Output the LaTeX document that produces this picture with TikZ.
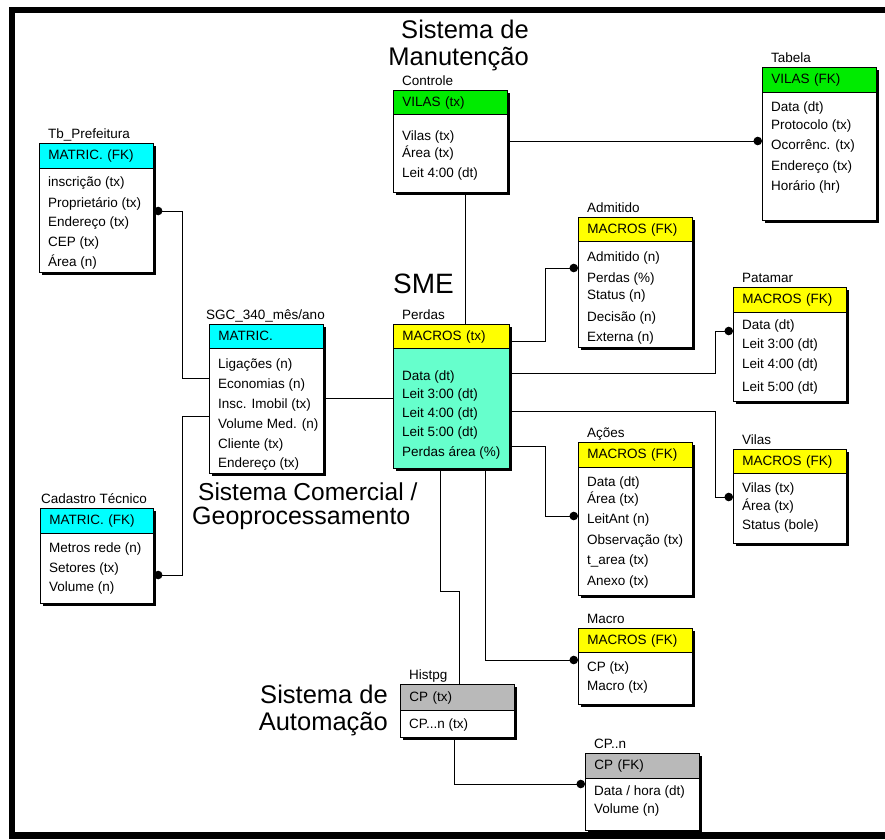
\documentclass[tikz,border=0pt]{standalone}
\usepackage{fontspec}
\setmainfont{Liberation Sans}
\usetikzlibrary{calc,shadows,arrows.meta}

\definecolor{hcyan}{RGB}{0,255,255}
\definecolor{hgreen}{RGB}{0,235,0}
\definecolor{hyellow}{RGB}{255,255,0}
\definecolor{hgray}{RGB}{185,185,185}
\definecolor{aqua}{RGB}{102,255,204}

\newcommand\erfont{\fontsize{13.5}{16}\selectfont}
\newcommand\bigfont{\fontsize{25.5}{30}\selectfont}

\tikzset{
  x=1pt, y=1pt,
  tbl/.style={draw=black, line width=0.9pt, anchor=north west, inner sep=0pt,
    drop shadow={shadow xshift=3pt, shadow yshift=-3pt, fill=black, opacity=1}},
  hdr/.style={draw=black, line width=0.9pt, anchor=north west, inner xsep=9pt,
    inner ysep=0pt, align=left, font=\erfont, text height=9.7pt, text depth=2.5pt},
  rowtxt/.style={anchor=base west, inner sep=0pt, font=\erfont},
  ttl/.style={anchor=base west, inner sep=0pt, font=\erfont},
  sysl/.style={inner sep=0pt, font=\bigfont},
  link/.style={line width=0.9pt},
  fk/.style={line width=0.9pt, -{Circle[length=8.5pt,width=8.5pt]}},
}

% table: name, x, y, width, height, header height, header colour, body colour, key
\newcommand\ertable[9]{%
  \node[tbl, minimum width=#4, minimum height=#5, fill=#8] (#1) at (#2,-#3) {};
  \pgfmathsetmacro\hdrw{#4-18}%
  \node[hdr, text width=\hdrw pt, minimum height=#6, fill=#7] (#1-h) at (#1.north west) {#9};
}
% attribute rows: baseline offset from the table top / text
\newcommand\ertrows[2]{%
  \foreach \dy/\txt [count=\i] in {#2} {
    \node[rowtxt] (#1-\i) at ($(#1.north west)+(9,-\dy)$) {\txt};
  }
}
\newcommand\ertitle[2]{%
  \node[ttl] (#1-t) at ($(#1.north west)+(9,5)$) {#2};
}

\begin{document}
\begin{tikzpicture}
\useasboundingbox (0,0) rectangle (885,-839);
\fill[white] (0,0) rectangle (885,-839);

% frame
\fill[black] (9,-7) rectangle (885,-13);
\fill[black] (9,-7) rectangle (15,-839);
\fill[black] (9,-832) rectangle (885,-839);

% tables
\ertable{ctl}{393}{90}{114}{102}{24}{hgreen}{white}{VILAS (tx)}
\ertitle{ctl}{Controle}
\ertrows{ctl}{50/Vilas (tx), 67/Área (tx), 87/Leit 4:00 (dt)}

\ertable{tab}{762}{67}{114}{153}{25}{hgreen}{white}{VILAS (FK)}
\ertitle{tab}{Tabela}
\ertrows{tab}{44/Data (dt), 62/Protocolo (tx), 82/Ocorrênc. (tx), 103/Endereço (tx), 123/Horário (hr)}

\ertable{tbp}{39}{143}{114}{129}{25}{hcyan}{white}{MATRIC. (FK)}
\ertitle{tbp}{Tb\_Prefeitura}
\ertrows{tbp}{43/inscrição (tx), 64/Proprietário (tx), 83/Endereço (tx), 103/CEP (tx), 123/Área (n)}

\ertable{sgc}{209}{324}{114}{149}{24}{hcyan}{white}{MATRIC.}
\node[ttl] (sgc-t) at ($(sgc.north west)+(-3,5)$) {SGC\_340\_mês/ano};
\ertrows{sgc}{44/Ligações (n), 64/Economias (n), 84/Insc. Imobil (tx), 104/Volume Med. (n), 124/Cliente (tx), 143/Endereço (tx)}

\ertable{cad}{40}{508}{113}{95}{25}{hcyan}{white}{MATRIC. (FK)}
\node[ttl] (cad-t) at ($(cad.north west)+(1,5)$) {Cadastro Técnico};
\ertrows{cad}{44/Metros rede (n), 64/Setores (tx), 83/Volume (n)}

\ertable{perdas}{393}{324}{116}{144}{24}{hyellow}{aqua}{MACROS (tx)}
\ertitle{perdas}{Perdas}
\ertrows{perdas}{56/Data (dt), 74/Leit 3:00 (dt), 93/Leit 4:00 (dt), 112/Leit 5:00 (dt), 132/Perdas área (\%)}

\ertable{adm}{578}{217}{114}{130}{24}{hyellow}{white}{MACROS (FK)}
\ertitle{adm}{Admitido}
\ertrows{adm}{44/Admitido (n), 65/Perdas (\%), 82/Status (n), 104/Decisão (n), 124/Externa (n)}

\ertable{pat}{733}{287}{113}{114}{25}{hyellow}{white}{MACROS (FK)}
\ertitle{pat}{Patamar}
\ertrows{pat}{42/Data (dt), 61/Leit 3:00 (dt), 81/Leit 4:00 (dt), 104/Leit 5:00 (dt)}

\ertable{aco}{578}{442}{114}{153}{25}{hyellow}{white}{MACROS (FK)}
\ertitle{aco}{Ações}
\ertrows{aco}{44/Data (dt), 61/Área (tx), 81/LeitAnt (n), 102/Observação (tx), 122/t\_area (tx), 143/Anexo (tx)}

\ertable{vil}{733}{449}{113}{94}{24}{hyellow}{white}{MACROS (FK)}
\ertitle{vil}{Vilas}
\ertrows{vil}{43/Vilas (tx), 61/Área (tx), 80/Status (bole)}

\ertable{mac}{578}{628}{114}{76}{24}{hyellow}{white}{MACROS (FK)}
\ertitle{mac}{Macro}
\ertrows{mac}{43/CP (tx), 62/Macro (tx)}

\ertable{hist}{400}{684}{114}{53}{26}{hgray}{white}{CP (tx)}
\ertitle{hist}{Histpg}
\node[rowtxt] (hist-1) at ($(hist.north west)+(9,-44)$) {CP...n (tx)};

\ertable{cpn}{585}{753}{114}{77}{25}{hgray}{white}{CP (FK)}
\ertitle{cpn}{CP..n}
\ertrows{cpn}{42/{Data / hora (dt)}, 60/Volume (n)}

% subsystem labels
\node[sysl, anchor=base east] (man1) at (529,-38) {Sistema de};
\node[sysl, anchor=base east] (man2) at (529,-65) {Manutenção};
\node[sysl, anchor=base west, font=\fontsize{28}{32}\selectfont] (sme) at (393,-293) {SME};
\node[sysl, anchor=base west, font=\fontsize{24.5}{28}\selectfont] (com1) at (198,-500) {Sistema Comercial /};
\node[sysl, anchor=base west, font=\fontsize{25}{28}\selectfont] (com2) at (192,-524) {Geoprocessamento};
\node[sysl, anchor=base east] (aut1) at (388,-703) {Sistema de};
\node[sysl, anchor=base east] (aut2) at (388,-730) {Automação};

% relationships
\coordinate (c1) at ($(ctl.south west)+(72,0)$);
\draw[link] (c1) -- (c1 |- perdas.north);

\coordinate (c2) at ($(ctl.north east)+(0,-51)$);
\draw[fk] (c2) -- (c2 -| tab.west);

\coordinate (c3) at ($(tbp.north east)+(0,-68)$);
\coordinate (t3) at ($(sgc.north west)+(0,-54)$);
\draw[fk] (t3) -- ++(-27,0) |- (c3);

\coordinate (c4) at ($(cad.north east)+(0,-67)$);
\coordinate (t4) at ($(sgc.north west)+(0,-92)$);
\draw[fk] (t4) -- ++(-27,0) |- (c4);

\coordinate (c5) at ($(sgc.north east)+(0,-74)$);
\draw[link] (c5) -- (c5 -| perdas.west);

\coordinate (c6) at ($(perdas.north east)+(0,-17)$);
\coordinate (t6) at ($(adm.north west)+(0,-51)$);
\draw[fk] (c6) -- ++(36,0) |- (t6);

\coordinate (c7) at ($(perdas.north east)+(0,-49)$);
\coordinate (t7) at ($(pat.north west)+(0,-44)$);
\draw[fk] (c7) -- ++(206,0) |- (t7);

\coordinate (c8) at ($(perdas.north east)+(0,-87)$);
\coordinate (t8) at ($(vil.north west)+(0,-48)$);
\draw[fk] (c8) -- ++(206,0) |- (t8);

\coordinate (c9) at ($(perdas.north east)+(0,-122)$);
\coordinate (t9) at ($(aco.north west)+(0,-74)$);
\draw[fk] (c9) -- ++(36,0) |- (t9);

\coordinate (c10) at ($(perdas.south west)+(47,0)$);
\coordinate (t10) at ($(hist.north west)+(59,0)$);
\draw[link] (c10) -- ++(0,-123) -| (t10);

\coordinate (c11) at ($(perdas.south west)+(92,0)$);
\coordinate (t11) at ($(mac.north west)+(0,-32)$);
\draw[fk] (c11) |- (t11);

\coordinate (c12) at ($(hist.south west)+(54,0)$);
\coordinate (t12) at ($(cpn.north west)+(0,-31)$);
\draw[fk] (c12) |- (t12);
\end{tikzpicture}
\end{document}
